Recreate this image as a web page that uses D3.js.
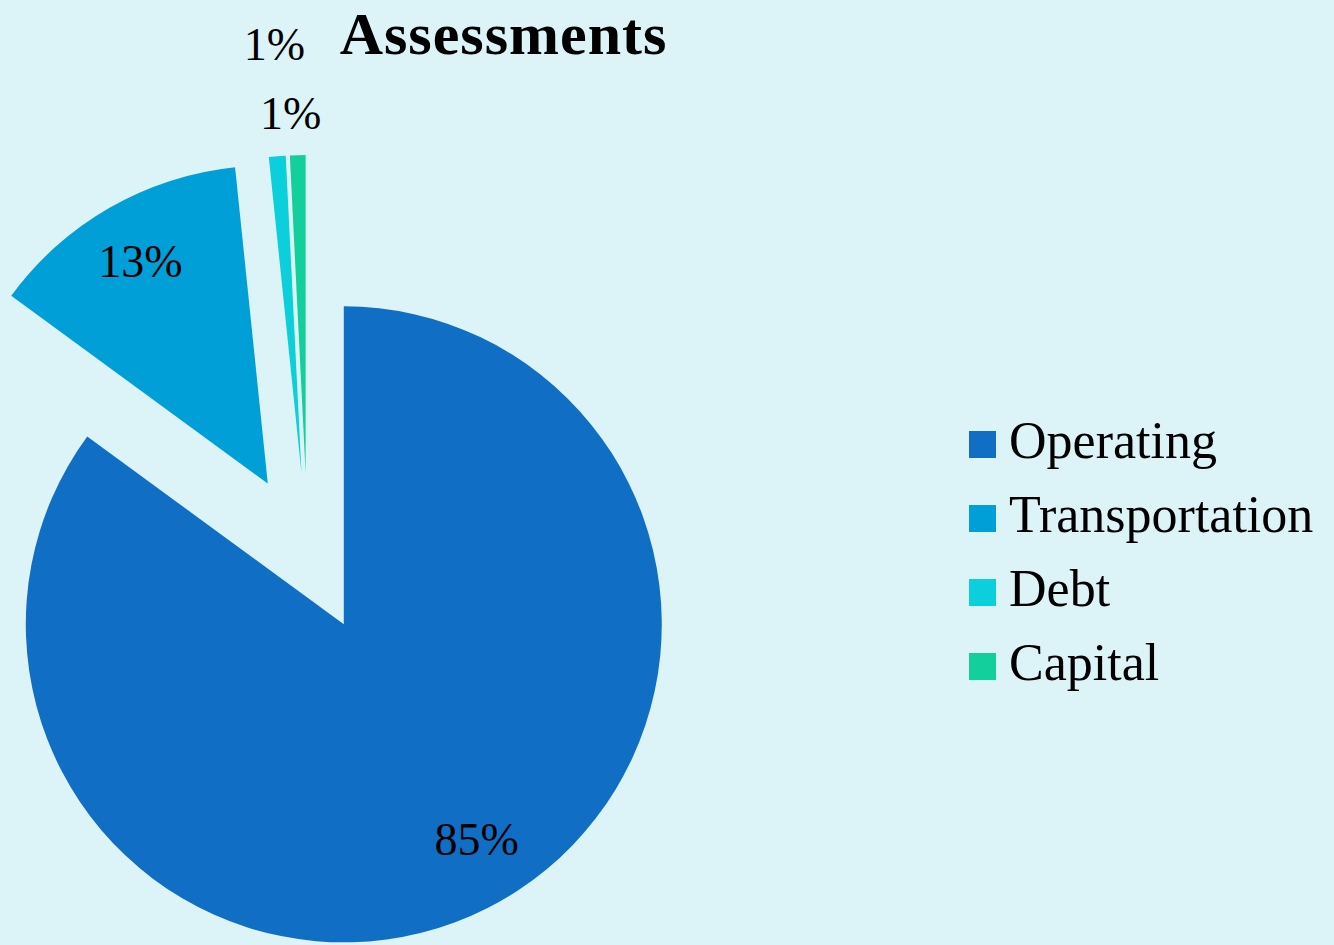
<!DOCTYPE html>
<html>
<head>
<meta charset="utf-8">
<script src="https://cdn.jsdelivr.net/npm/d3@7"></script>
<style>
  html, body { margin: 0; padding: 0; background: #dcf4f8; }
  svg { display: block; }
</style>
</head>
<body>
<svg id="chart" width="1334" height="945"></svg>
<script>
// ---- data ----
const categories = ["Operating", "Transportation", "Debt", "Capital"];
const values = [85.06, 13.3, 0.85, 0.79];
const labels = ["85%", "13%", "1%", "1%"];
const colors = ["#106ec5", "#009fd8", "#0bcfdb", "#12cf9b"];
const title = "Assessments";

// ---- layout config ----
const W = 1334, H = 945;
const cx = 307.6, cy = 553, R = 318, explode = 80;
const labelRadius = [0.796, 0.805, 1.352, 1.13];
const labelAngleShift = [-4.8, 0, 0.75, -0.95]; // degrees
const font = "'Liberation Serif', 'Times New Roman', serif";

const svg = d3.select("#chart");
svg.append("rect").attr("width", W).attr("height", H).attr("fill", "#dcf4f8");

const data = categories.map((c, i) => ({ name: c, value: values[i], label: labels[i], color: colors[i], i }));

const pie = d3.pie().value(d => d.value).sort(null).startAngle(0).endAngle(2 * Math.PI);
const arc = d3.arc().innerRadius(0).outerRadius(R);
const arcs = pie(data);

const g = svg.append("g").attr("transform", `translate(${cx},${cy})`);

const offset = (a, r) => [Math.sin(a) * r, -Math.cos(a) * r];

const slices = g.selectAll("g.slice").data(arcs).enter().append("g")
  .attr("class", "slice")
  .attr("transform", d => {
    const mid = (d.startAngle + d.endAngle) / 2;
    const [dx, dy] = offset(mid, explode);
    return `translate(${dx},${dy})`;
  });

slices.append("path")
  .attr("d", arc)
  .attr("fill", d => d.data.color);

slices.append("text")
  .attr("transform", d => {
    const mid = (d.startAngle + d.endAngle) / 2 + labelAngleShift[d.data.i] * Math.PI / 180;
    const [x, y] = offset(mid, R * labelRadius[d.data.i]);
    return `translate(${x},${y})`;
  })
  .attr("text-anchor", "middle")
  .attr("dominant-baseline", "central")
  .attr("font-family", font)
  .attr("font-size", 46)
  .attr("fill", "#000")
  .text(d => d.data.label);

// title
svg.append("text")
  .attr("x", 503.5).attr("y", 54)
  .attr("text-anchor", "middle")
  .attr("font-family", font)
  .attr("font-weight", "bold")
  .attr("font-size", 60)
  .attr("letter-spacing", 1)
  .attr("fill", "#000")
  .text(title);

// legend
const legendY = d3.scalePoint().domain(categories).range([458, 680]);
const legend = svg.append("g");
const items = legend.selectAll("g").data(data).enter().append("g")
  .attr("transform", d => `translate(969,${legendY(d.name)})`);
items.append("rect")
  .attr("x", 0).attr("y", -27).attr("width", 27).attr("height", 27)
  .attr("fill", d => d.color);
items.append("text")
  .attr("x", 40).attr("y", 0)
  .attr("font-family", font)
  .attr("font-size", 52)
  .attr("fill", "#000")
  .text(d => d.name);
</script>
</body>
</html>
